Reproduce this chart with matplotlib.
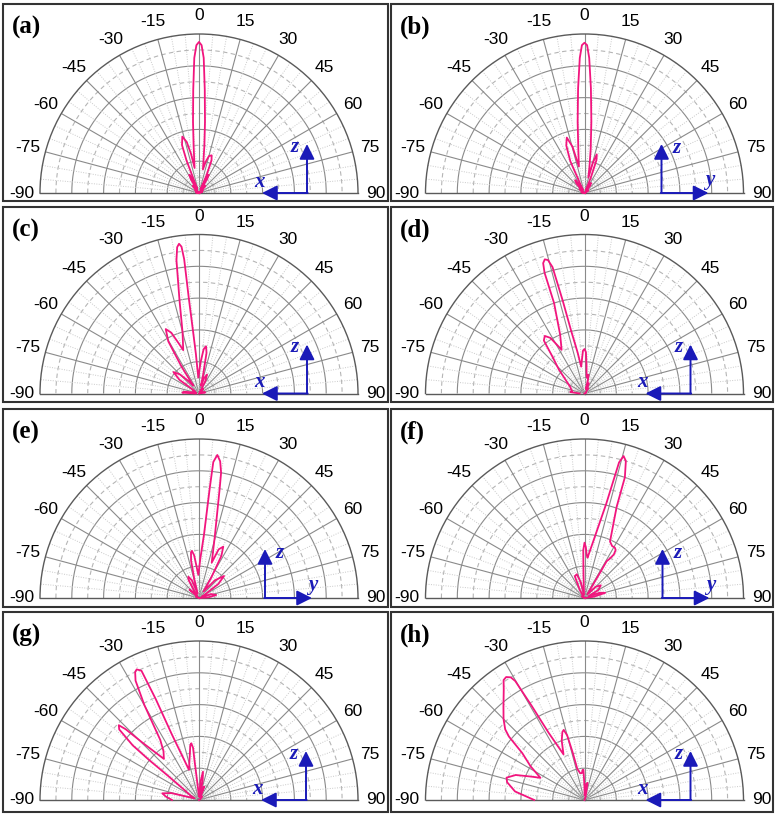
import numpy as np
import matplotlib
matplotlib.use("Agg")
import matplotlib.pyplot as plt
from matplotlib.patches import Rectangle, FancyArrowPatch

# ---------------- data (angle in degrees, normalised radius) ----------------
PANEL_LABELS = ["(a)", "(b)", "(c)", "(d)", "(e)", "(f)", "(g)", "(h)"]
TICK_ANGLES = [-90, -75, -60, -45, -30, -15, 0, 15, 30, 45, 60, 75, 90]
TICK_LABELS = ["-90", "-75", "-60", "-45", "-30", "-15", "0", "15", "30", "45", "60", "75", "90"]
HORIZ_AXIS = ["x", "y", "x", "x", "y", "y", "x", "x"]

THETA_A = [-90, -80, -70, -62, -55, -47, -43, -40, -37, -33, -30.5, -28, -25.5, -23, -21, -19.5,
           -16.5, -13.5, -11.5, -10, -6.5, -4.8, -3.2, -2, -1, 0, 1, 2, 3.2, 4.8, 6.5, 9.5, 12,
           15, 18.5, 21, 23, 24.5, 26, 28, 30, 32, 37, 40, 43, 47, 55, 62, 70, 80, 90]
R_A = [0, 0.02, 0.01, 0.0, 0.03, 0.01, 0.05, 0.06, 0.05, 0.02, 0.10, 0.13, 0.10, 0.03, 0.22, 0.32,
       0.37, 0.33, 0.25, 0.16, 0.30, 0.45, 0.65, 0.85, 0.93, 0.95, 0.93, 0.85, 0.65, 0.45, 0.30, 0.15, 0.20,
       0.24, 0.25, 0.22, 0.12, 0.03, 0.10, 0.13, 0.10, 0.02, 0.05, 0.06, 0.05, 0.01, 0.03, 0.0, 0.02, 0.0, 0]

THETA_B = [-90, -75, -62, -52, -45, -40, -36, -32, -28, -24, -21, -17.7, -14.5, -12, -8, -5.5, -3.5,
           -2, -1, 0, 1, 2, 3.5, 5.5, 8, 11, 14, 15.5, 17.6, 20, 22.5, 25, 29, 33, 37, 42, 55, 70, 90]
R_B = [0, 0.02, 0.0, 0.04, 0.02, 0.08, 0.10, 0.07, 0.02, 0.22, 0.32, 0.366, 0.30, 0.17, 0.28, 0.45, 0.66,
       0.85, 0.93, 0.945, 0.93, 0.85, 0.66, 0.45, 0.28, 0.16, 0.10, 0.20, 0.255, 0.22, 0.10, 0.02, 0.06,
       0.075, 0.06, 0.01, 0.03, 0.01, 0]

THETA_C = [-90, -87, -83, -75, -66, -60, -55, -50, -45, -40, -36, -33, -30.5, -27.3, -24.5, -22, -20,
           -15, -11.8, -9.6, -8.5, -7.6, -6.8, -6.3, -6.1, -5.5, -4.5, -2.5, 3, 6, 8.5, 10.5, 12.5, 14,
           18, 23, 27, 30, 40, 50, 65, 80, 90]
R_C = [0.02, 0.105, 0.09, 0.02, 0.04, 0.03, 0.15, 0.21, 0.17, 0.10, 0.06, 0.20, 0.38, 0.456, 0.42, 0.34,
       0.29, 0.40, 0.60, 0.85, 0.93, 0.95, 0.93, 0.85, 0.60, 0.40, 0.25, 0.10, 0.20, 0.28, 0.30, 0.26,
       0.12, 0.05, 0.10, 0.13, 0.09, 0.01, 0.04, 0.01, 0.02, 0.04, 0]

THETA_D = [-90, -84, -79, -65, -53.6, -47, -40.9, -37.5, -34.6, -31.5, -29, -27.7, -25, -22.5, -18.6,
           -18.3, -17.6, -16.5, -15.3, -14.2, -13.2, -12, -9.5, -7, -4, -2, 0, 2, 4, 7, 9, 11, 12, 14,
           17, 22, 28, 35, 50, 70, 90]
R_D = [0.03, 0.09, 0.08, 0.10, 0.15, 0.22, 0.31, 0.42, 0.44, 0.41, 0.34, 0.31, 0.35, 0.40, 0.60, 0.80,
       0.86, 0.88, 0.87, 0.82, 0.60, 0.40, 0.26, 0.17, 0.22, 0.27, 0.28, 0.26, 0.18, 0.11, 0.10, 0.12,
       0.12, 0.09, 0.03, 0.07, 0.03, 0.04, 0.01, 0.01, 0]

THETA_E = [-90, -70, -55, -48, -40, -34, -30, -26.5, -22, -17, -14, -12, -10, -8.5, -6.5, -4.5, -1.7,
           2, 4.5, 5.6, 6, 7.3, 8.8, 10, 10.7, 14.6, 19.8, 22, 25.3, 28, 31, 35, 42, 48.7, 54, 60, 66,
           72, 80, 86, 90]
R_E = [0, 0.02, 0.01, 0.08, 0.02, 0.06, 0.13, 0.15, 0.12, 0.03, 0.12, 0.24, 0.29, 0.30, 0.27, 0.20,
       0.145, 0.25, 0.40, 0.70, 0.86, 0.907, 0.87, 0.80, 0.70, 0.39, 0.236, 0.33, 0.357, 0.30, 0.15,
       0.05, 0.15, 0.21, 0.15, 0.04, 0.02, 0.08, 0.11, 0.06, 0]

THETA_F = [-90, -60, -40, -30, -24, -18, -13, -8, -2.4, -1.5, 0, 1.5, 3, 4.3, 9.8, 13, 14.3, 15.4,
           16.8, 18.5, 19.4, 24.3, 28, 31, 33, 34, 32.5, 31, 31.5, 32, 38, 45, 52, 60, 66, 71, 76, 82, 90]
R_F = [0, 0.02, 0.01, 0.06, 0.15, 0.157, 0.10, 0.02, 0.15, 0.30, 0.348, 0.32, 0.27, 0.254, 0.40, 0.61,
       0.88, 0.926, 0.90, 0.80, 0.61, 0.39, 0.37, 0.37, 0.36, 0.33, 0.29, 0.27, 0.20, 0.126, 0.03,
       0.10, 0.13, 0.10, 0.03, 0.10, 0.134, 0.06, 0]

THETA_G = [-90, -84, -79.7, -76, -70, -62, -55, -52, -51.3, -50.5, -48.5, -47, -46, -44.5, -40.5, -36,
           -32.8, -29.9, -28, -26.5, -25.5, -24, -23.2, -22.5, -18.4, -11, -9, -7.7, -6.5, -6.5, -5,
           0, 5, 8, 11, 14, 20.6, 27, 40, 60, 90]
R_G = [0.17, 0.21, 0.235, 0.18, 0.03, 0.06, 0.12, 0.25, 0.40, 0.54, 0.67, 0.69, 0.64, 0.50, 0.34, 0.38,
       0.45, 0.69, 0.85, 0.90, 0.91, 0.89, 0.69, 0.45, 0.20, 0.30, 0.35, 0.36, 0.33, 0.25, 0.08,
       0.02, 0.12, 0.18, 0.12, 0.02, 0.09, 0.02, 0.03, 0.01, 0]

THETA_H = [-90, -83, -77, -74, -70, -66, -63.3, -58, -53, -50, -48.3, -45, -40.8, -36.2, -34, -32.5,
           -31, -30.2, -29.3, -28.1, -24.7, -21, -18, -16.5, -15, -14, -13, -9, -5.6, -3.5, -2, -0.5,
           2, 6, 10, 13, 16, 20, 40, 90]
R_H = [0.316, 0.44, 0.50, 0.51, 0.46, 0.36, 0.31, 0.40, 0.49, 0.62, 0.668, 0.72, 0.78, 0.86, 0.91,
       0.917, 0.90, 0.866, 0.68, 0.48, 0.316, 0.40, 0.45, 0.46, 0.42, 0.31, 0.20, 0.17, 0.17, 0.19,
       0.19, 0.10, 0.03, 0.10, 0.11, 0.05, 0.02, 0.02, 0.0, 0]

THETAS = [THETA_A, THETA_B, THETA_C, THETA_D, THETA_E, THETA_F, THETA_G, THETA_H]
RADII = [R_A, R_B, R_C, R_D, R_E, R_F, R_G, R_H]

# ---------------- layout (pixels) ----------------
W, H = 777, 815
RAD = 159
COLS = [(199, 3, 388), (584.5, 391, 773)]            # centre x, box left, box right
ROWS = [(193, 4, 201), (393.5, 207, 402), (598, 409, 607), (800, 612, 812)]  # baseline y, box top, bottom
ARROW_DX = [108, 77, 108, 106, 66, 78, 107, 106]     # corner offset from centre

PINK = "#F2157E"
BLUE = "#1A1AB8"
GRID = "#8a8a8a"
GRID_L = "#b5b5b5"
GRID_D = "#c9c9c9"

fig = plt.figure(figsize=(W / 100, H / 100), dpi=100)
fig.patch.set_facecolor("white")


def fxy(x, y):
    return x / W, 1 - y / H


for i in range(8):
    col = COLS[i % 2]
    row = ROWS[i // 2]
    cx, cy = col[0], row[0]

    # frame box
    x0, x1 = col[1], col[2]
    y0, y1 = row[1], row[2]
    fig.add_artist(Rectangle(fxy(x0, y1), (x1 - x0) / W, (y1 - y0) / H,
                             transform=fig.transFigure, fill=False,
                             edgecolor="#333333", lw=1.5, zorder=0))

    # square axes box: the half disc is fitted in its middle
    ax = fig.add_axes([(cx - RAD) / W, (H - cy - RAD / 2) / H, 2 * RAD / W, 2 * RAD / H],
                      projection="polar")
    ax.set_theta_zero_location("N")
    ax.set_theta_direction(-1)
    ax.set_thetamin(-90)
    ax.set_thetamax(90)
    ax.set_rlim(0, 1)
    ax.set_xticks([])
    ax.set_yticks([])
    ax.grid(False)
    ax.patch.set_alpha(0)
    for sp in ["polar", "start", "end"]:
        ax.spines[sp].set_color("#5a5a5a")
        ax.spines[sp].set_linewidth(1.0)

    tt = np.linspace(-np.pi / 2, np.pi / 2, 300)
    for k in range(1, 10):
        rr = k / 10
        if k % 2 == 0:
            ax.plot(tt, np.full_like(tt, rr), color=GRID, lw=0.8, zorder=1)
        else:
            ax.plot(tt, np.full_like(tt, rr), color=GRID_L, lw=0.8,
                    linestyle=(0, (4, 3)), zorder=1)
    for a in range(-85, 90, 5):
        th = np.deg2rad(a)
        if a % 15 == 0:
            ax.plot([th, th], [0, 1], color=GRID, lw=0.8, zorder=1)
        else:
            ax.plot([th, th], [0, 1], color=GRID_D, lw=0.7,
                    linestyle=(0, (1, 1.5)), zorder=1)

    for a, lab in zip(TICK_ANGLES, TICK_LABELS):
        ax.text(np.deg2rad(a), 1.115, lab, ha="center", va="center",
                fontsize=12.5, family=["Liberation Sans", "DejaVu Sans"], color="black")

    ax.plot(np.deg2rad(THETAS[i]), RADII[i], color=PINK, lw=1.3, zorder=3, clip_on=False)

    # panel label
    fig.text((x0 + 9) / W, 1 - (y0 + 23) / H, PANEL_LABELS[i], ha="left", va="center",
             fontsize=18, fontweight="bold", family=["Liberation Serif", "DejaVu Serif"])

    # coordinate arrows
    corner_x = cx + ARROW_DX[i]
    base_y = cy
    top_y = cy - 49
    style = "-|>,head_length=0.7,head_width=0.35"
    fig.add_artist(FancyArrowPatch(fxy(corner_x, base_y), fxy(corner_x, top_y),
                                   transform=fig.transFigure, arrowstyle=style,
                                   mutation_scale=13, lw=1.4, color=BLUE, shrinkA=0, shrinkB=0))
    if HORIZ_AXIS[i] == "x":
        tip_x = corner_x - 45
        fig.add_artist(FancyArrowPatch(fxy(corner_x + 0.7, base_y), fxy(tip_x, base_y),
                                       transform=fig.transFigure, arrowstyle=style,
                                       mutation_scale=13, lw=1.4, color=BLUE, shrinkA=0, shrinkB=0))
        zx, zy = corner_x - 12, top_y + 3
        hx, hy = tip_x - 3, base_y - 11
    else:
        tip_x = corner_x + 47
        fig.add_artist(FancyArrowPatch(fxy(corner_x - 0.7, base_y), fxy(tip_x, base_y),
                                       transform=fig.transFigure, arrowstyle=style,
                                       mutation_scale=13, lw=1.4, color=BLUE, shrinkA=0, shrinkB=0))
        zx, zy = corner_x + 15, top_y + 4
        hx, hy = tip_x + 1, base_y - 13
    fig.text(*fxy(zx, zy), "z", ha="center", va="center", fontsize=15, color=BLUE,
             fontweight="bold", fontstyle="italic", family=["Liberation Serif", "DejaVu Serif"])
    fig.text(*fxy(hx, hy), HORIZ_AXIS[i], ha="center", va="center", fontsize=15, color=BLUE,
             fontweight="bold", fontstyle="italic", family=["Liberation Serif", "DejaVu Serif"])

fig.savefig("out.png", dpi=100, facecolor="white")
